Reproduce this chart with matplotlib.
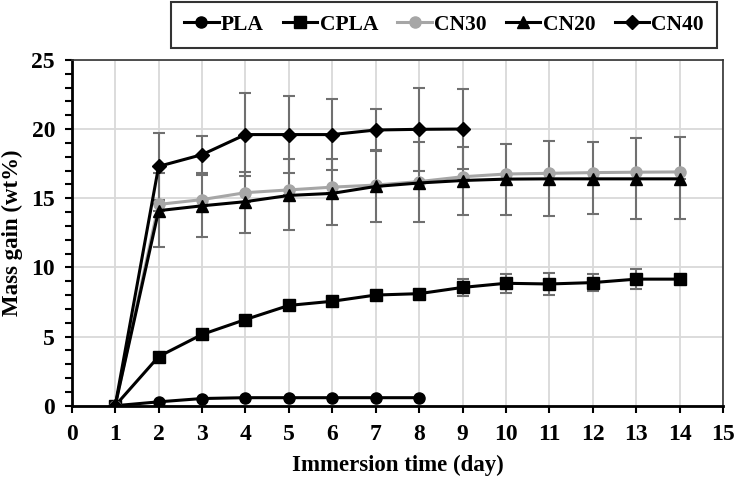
import numpy as np
import matplotlib.pyplot as plt
from matplotlib.ticker import MultipleLocator

plt.rcParams['font.family'] = ['Liberation Serif', 'DejaVu Serif']
plt.rcParams['font.weight'] = 'bold'

# days
days_pla = [1, 2, 3, 4, 5, 6, 7, 8]
days_cn40 = [1, 2, 3, 4, 5, 6, 7, 8, 9]
days_all = [1, 2, 3, 4, 5, 6, 7, 8, 9, 10, 11, 12, 13, 14]

# mass gain (wt%)
pla = [0, 0.28, 0.52, 0.58, 0.58, 0.58, 0.58, 0.58]

cpla = [0, 3.55, 5.15, 6.23, 7.25, 7.55, 8.0, 8.1, 8.55, 8.85, 8.8, 8.9, 9.15, 9.15]
cpla_err = [0, 0.2, 0.2, 0.2, 0.2, 0.2, 0.3, 0.3, 0.62, 0.68, 0.8, 0.6, 0.72, 0]

# CN30: only upper error bars visible
cn30 = [0, 14.55, 14.9, 15.4, 15.6, 15.8, 15.95, 16.2, 16.55, 16.75, 16.8, 16.85, 16.88, 16.9]
cn30_up = [0, 2.28, 1.8, 1.5, 2.25, 2.0, 2.55, 2.83, 2.15, 2.2, 2.3, 2.2, 2.5, 2.5]

# CN20: only lower error bars visible
cn20 = [0, 14.1, 14.45, 14.75, 15.2, 15.35, 15.85, 16.1, 16.28, 16.38, 16.4, 16.4, 16.4, 16.4]
cn20_dn = [0, 2.63, 2.25, 2.25, 2.47, 2.26, 2.6, 2.82, 2.5, 2.6, 2.7, 2.56, 2.9, 2.9]

cn40 = [0, 17.3, 18.15, 19.6, 19.6, 19.6, 19.93, 19.98, 20.0]
cn40_err = [0, 2.4, 1.35, 3.0, 2.8, 2.57, 1.52, 3.0, 2.87]

zeros = [0] * len(days_all)

fig = plt.figure(figsize=(7.4, 4.79), dpi=100)
ax = fig.add_axes([0.097, 0.153, 0.88, 0.722])

err_kw = dict(ecolor='#707070', elinewidth=1.5, capsize=4, capthick=1.5)

ax.plot(days_pla, pla, color='black', marker='o', ms=8, lw=2.2,
        label='PLA', zorder=3)
ax.errorbar(days_all, cpla, yerr=cpla_err, color='black', marker='s', ms=9,
            lw=2.2, label='CPLA', zorder=3, **err_kw)
ax.errorbar(days_all, cn30, yerr=[zeros, cn30_up], color='#a6a6a6', marker='o',
            ms=8, lw=2.2, label='CN30', zorder=3, **err_kw)
ax.errorbar(days_all, cn20, yerr=[cn20_dn, zeros], color='black', marker='^',
            ms=9, lw=2.2, label='CN20', zorder=3, **err_kw)
ax.errorbar(days_cn40, cn40, yerr=cn40_err, color='black', marker='D', ms=7.5,
            lw=2.2, label='CN40', zorder=3, **err_kw)

ax.set_xlim(0, 15)
ax.set_ylim(0, 25)
ax.xaxis.set_major_locator(MultipleLocator(1))
ax.yaxis.set_major_locator(MultipleLocator(5))
ax.yaxis.set_minor_locator(MultipleLocator(1))
ax.grid(True, which='major', color='#d9d9d9', lw=1.3, zorder=0)
ax.set_axisbelow(True)

ax.tick_params(axis='both', which='major', labelsize=17, length=5, width=1.5,
               direction='out')
ax.tick_params(axis='x', which='major', pad=8)
ax.tick_params(axis='y', which='major', pad=7)
ax.tick_params(axis='y', which='minor', length=5, width=1.5, direction='out')
for lbl in ax.get_xticklabels() + ax.get_yticklabels():
    lbl.set_fontweight('bold')

for s in ['left', 'bottom']:
    ax.spines[s].set_linewidth(2)
for s in ['top', 'right']:
    ax.spines[s].set_linewidth(1.2)
    ax.spines[s].set_color('#333333')

ax.set_xlabel('Immersion time (day)', fontsize=16.5, fontweight='bold', labelpad=7)
ax.set_ylabel('Mass gain (wt%)', fontsize=16.5, fontweight='bold', labelpad=6)

handles, labels = ax.get_legend_handles_labels()
handles = [h[0] if hasattr(h, 'lines') else h for h in handles]
leg = fig.legend(handles, labels, loc='center', bbox_to_anchor=(0.6, 0.948),
                 ncol=5, fontsize=15.5, frameon=True, fancybox=False,
                 edgecolor='black', handlelength=1.6, handletextpad=0.1,
                 columnspacing=0.9, borderpad=0.6)
leg.get_frame().set_linewidth(1.5)
for t in leg.get_texts():
    t.set_fontweight('bold')

fig.savefig('out.png', dpi=100)
